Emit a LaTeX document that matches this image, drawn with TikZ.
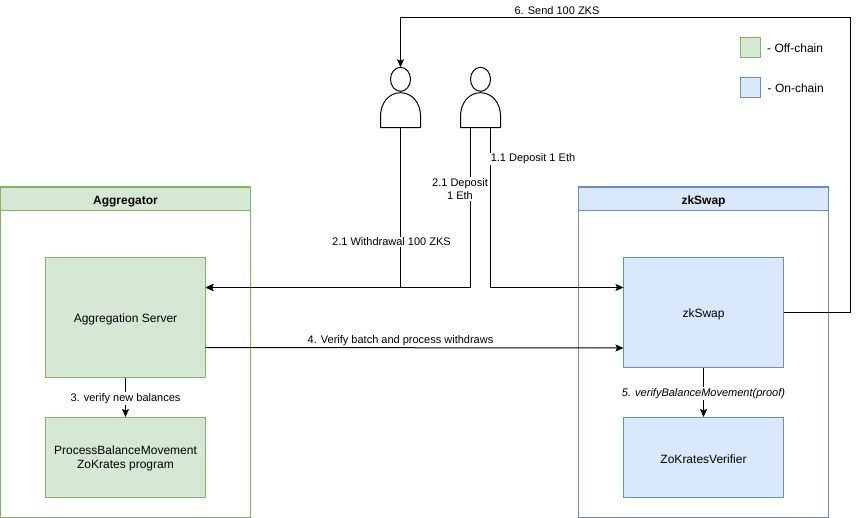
\documentclass[tikz,border=0pt]{standalone}
\usepackage{fontspec}
\setmainfont{Liberation Sans}
\usetikzlibrary{arrows.meta}
\definecolor{offfill}{HTML}{D5E8D4}
\definecolor{offline}{HTML}{82B366}
\definecolor{onfill}{HTML}{DAE8FC}
\definecolor{online}{HTML}{6C8EBF}
\newcommand{\lowered}[2][1.5pt]{\raisebox{-#1}[\height][\depth]{#2}}
\tikzset{
	offbox/.style={draw=offline,fill=offfill,line width=1pt,inner sep=0pt,align=center,font=\fontsize{12}{14}\selectfont},
	onbox/.style={draw=online,fill=onfill,line width=1pt,inner sep=0pt,align=center,font=\fontsize{12}{14}\selectfont},
	person/.style={minimum width=40pt,minimum height=60pt,inner sep=0pt},
	flow/.style={-{Stealth[length=8pt,width=7pt,inset=1.5pt]},draw=black,line width=1pt},
	tag/.style={inner sep=1pt,align=center,font=\fontsize{11}{13}\selectfont},
}
\begin{document}
\begin{tikzpicture}[x=1pt,y=-1pt]
			\useasboundingbox (0,0) rectangle (859,518);
			% containers
			\node[offbox,fill=white,minimum width=250pt,minimum height=330pt] (AggregatorFrame) at (125.5,352) {};
			\node[offbox,minimum width=250pt,minimum height=23pt,font=\fontsize{12}{14}\selectfont\bfseries] (AggregatorHead) at (125.5,199) {\lowered[2.5pt]{Aggregator}};
			\node[onbox,fill=white,minimum width=250pt,minimum height=330pt] (zkSwapFrame) at (703.5,352) {};
			\node[onbox,minimum width=250pt,minimum height=23pt,font=\fontsize{12}{14}\selectfont\bfseries] (zkSwapHead) at (703.5,199) {\lowered[2.5pt]{zkSwap}};
			
			% boxes
			\node[offbox,minimum width=160pt,minimum height=120pt] (Server) at (125.5,317.5) {\lowered{Aggregation Server}};
			\node[offbox,minimum width=160pt,minimum height=80pt] (Program) at (125.5,457.5) {\lowered{\begin{tabular}{@{}c@{}}ProcessBalanceMovement\\ZoKrates program\end{tabular}}};
			\node[onbox,minimum width=160pt,minimum height=110pt] (zkSwap) at (703.5,312.5) {\lowered{zkSwap}};
			\node[onbox,minimum width=160pt,minimum height=80pt] (Verifier) at (703.5,457.5) {\lowered{ZoKratesVerifier}};
			
			% legend
			\node[offbox,minimum width=20pt,minimum height=20pt] (OffKey) at (750.5,47.5) {};
			\node[onbox,minimum width=20pt,minimum height=20pt] (OnKey) at (750.5,87.5) {};
			\node[anchor=west,inner sep=0pt,font=\fontsize{12}{14}\selectfont] (OffText) at (767,48.5) {- Off-chain};
			\node[anchor=west,inner sep=0pt,font=\fontsize{12}{14}\selectfont] (OnText) at (767.5,88.5) {- On-chain};
			
			% people
			\node[person] (Receiver) at (400.5,97.5) {};
			\node[person] (Depositor) at (480.5,97.5) {};
			\foreach \who in {Receiver,Depositor} {
				\draw[line width=1pt,fill=white,shift={(\who.south)}] (-20,0) -- (-20,-12) .. controls (-20,-24) and (-12,-35) .. (0,-35) .. controls (12,-35) and (20,-24) .. (20,-12) -- (20,0) -- cycle;
				\draw[line width=1pt,fill=white,shift={(\who.north)}] (0,12) ellipse (10pt and 12pt);
			}
			
			% free ends
			\coordinate (ServerIn) at (205.5,287.5);
			\coordinate (SwapIn) at (623.5,287.5);
			\coordinate (SwapCheck) at (623.5,348);
			\coordinate (ServerOut) at (205.5,347.5);
			\coordinate (DepositOut) at (490.5,127.5);
			\coordinate (LoopRight) at (850.5,312.5);
			\coordinate (LoopTop) at (850.5,17.5);
			
			\draw[flow] (Receiver.south) |- (ServerIn);
			\draw[flow] (Depositor.south) ++(-10,0) coordinate (DepositLeft) |- (ServerIn);
			\draw[flow] (DepositOut) |- (SwapIn);
			\draw[flow] (ServerOut) -- (SwapCheck);
			\draw[flow] (Server.south) -- (Program.north);
			\draw[flow] (zkSwap.south) -- (Verifier.north);
			\draw[flow] (zkSwap.east) -- (LoopRight) -- (LoopTop) -| (Receiver.north);
			
			% labels
			\node[tag] (SendTag) at (557,10.5) {6. Send 100 ZKS};
			\node[tag,fill=white] (WithdrawTag) at (391.5,242) {2.1 Withdrawal 100 ZKS};
			\node[tag,fill=white] (DepositTag) at (460,189) {2.1 Deposit\\1 Eth};
			\node[tag,fill=white] (SwapTag) at (533,159) {1.1 Deposit 1 Eth};
			\node[tag] (VerifyTag) at (400.5,340.5) {4. Verify batch and process withdraws};
			\node[tag,fill=white] (BalanceTag) at (125.5,398.5) {3. verify new balances};
			\node[tag,fill=white,font=\fontsize{11}{13}\selectfont\itshape] (ProofTag) at (703.5,393.5) {5. verifyBalanceMovement(proof)};
			
\end{tikzpicture}
\end{document}
